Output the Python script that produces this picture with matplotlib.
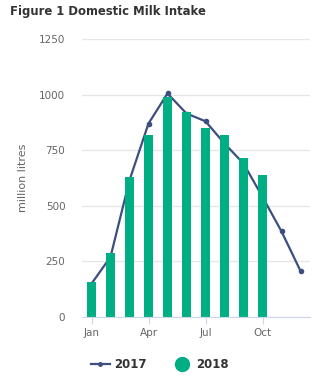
import matplotlib.pyplot as plt
from matplotlib.lines import Line2D

months = ["Jan", "Feb", "Mar", "Apr", "May", "Jun", "Jul", "Aug", "Sep", "Oct", "Nov", "Dec"]
intake_2017 = [150, 270, 615, 870, 1005, 915, 880, 780, 690, 540, 385, 207]
intake_2018 = [158, 288, 628, 820, 990, 923, 851, 820, 716, 640]
tick_months = ["Jan", "Apr", "Jul", "Oct"]

line_color = "#3d4e80"
bar_color = "#00ae84"

W, H = 336, 381
fig = plt.figure(figsize=(W / 100, H / 100), dpi=100)
ax = fig.add_axes([82 / W, (H - 317) / H, 228 / W, (317 - 39) / H])

x = list(range(len(months)))
# line sits behind the bars, as in the original
ax.plot(x, intake_2017, color=line_color, lw=1.6, marker="o", ms=3, zorder=2)
ax.bar(x[:len(intake_2018)], intake_2018, width=0.48, color=bar_color, zorder=3)

ax.set_xlim(-0.5, 11.5)
ax.set_ylim(0, 1250)
ax.set_yticks([0, 250, 500, 750, 1000, 1250])
ax.set_xticks([months.index(m) for m in tick_months])
ax.set_xticklabels(tick_months)
ax.grid(axis="y", color="#e6e6e6", lw=1, zorder=0)
ax.set_axisbelow(True)

for s in ["top", "right", "left"]:
    ax.spines[s].set_visible(False)
ax.spines["bottom"].set_color("#ccd6eb")
ax.spines["bottom"].set_zorder(4)
ax.tick_params(axis="y", length=0, pad=12, labelsize=7.5, labelcolor="#666666")
ax.tick_params(axis="x", length=5, color="#ccd6eb", labelsize=7.5, labelcolor="#666666", pad=3)
ax.set_ylabel("million litres", fontsize=8, color="#666666", labelpad=8)

fig.text(10 / W, 1 - 12 / H, "Figure 1 Domestic Milk Intake", fontsize=8.4,
         fontweight="bold", color="#333333", va="center", ha="left")

handles = [
    Line2D([], [], color=line_color, lw=1.6, marker="o", ms=2.5),
    Line2D([], [], color=bar_color, lw=0, marker="o", ms=10),
]
fig.legend(handles, ["2017", "2018"], loc="center", bbox_to_anchor=(160 / W, 1 - 365 / H),
           ncol=2, frameon=False, prop={"weight": "bold", "size": 8.5},
           handlelength=1.6, columnspacing=2.2, handletextpad=0.4, labelcolor="#333333")

fig.savefig("out.png", dpi=100)
